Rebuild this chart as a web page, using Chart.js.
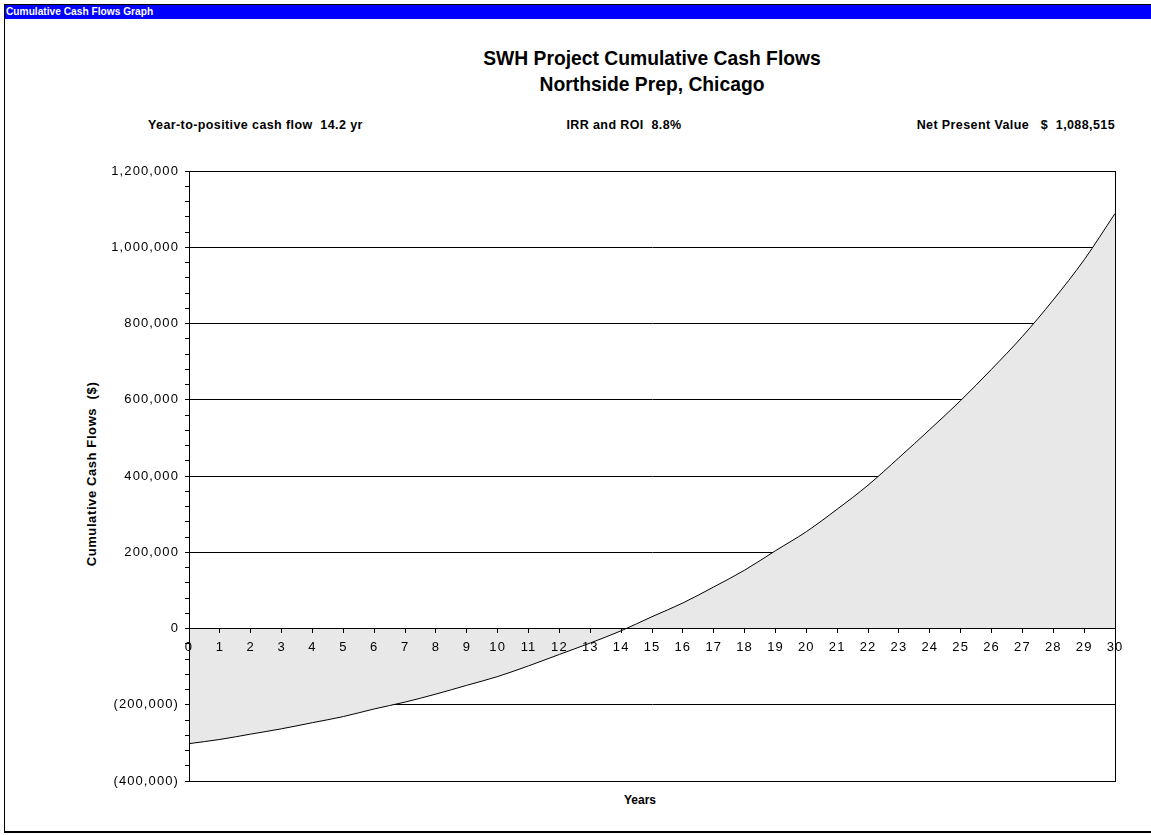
<!DOCTYPE html>
<html>
<head>
<meta charset="utf-8">
<script src="https://cdn.jsdelivr.net/npm/chart.js@4/dist/chart.umd.min.js"></script>
<style>
  html, body { margin: 0; padding: 0; background: #fff; }
  body { width: 1151px; height: 835px; position: relative; overflow: hidden; font-family: "Liberation Sans", Arial, sans-serif; color: #000; }
  #frame { position: absolute; left: 4px; top: 4px; width: 1160px; height: 826px; border-left: 1px solid #000; border-top: 1px solid #000; border-bottom: 2px solid #000; box-sizing: content-box; }
  #bar { position: absolute; left: 5px; top: 5px; width: 1146px; height: 14px; background: #0000FF; color: #fff; font-weight: bold; font-size: 10.2px; line-height: 14px; padding-left: 1px; box-sizing: border-box; }
  .t { position: absolute; white-space: pre; font-weight: bold; }
  #title { left: 189px; width: 926px; top: 46px; text-align: center; font-size: 19.3px; line-height: 26px; }
  .stat { font-size: 12.5px; letter-spacing: 0.4px; top: 117px; line-height: 16px; }
  #ytitle { font-size: 13px; letter-spacing: 0.6px; left: 92px; top: 474px; transform: translate(-50%, -50%) rotate(-90deg); line-height: 16px; }
  #xtitle { font-size: 12px; left: 640px; top: 792px; transform: translateX(-50%); line-height: 16px; }
  canvas { position: absolute; left: 0; top: 0; }
</style>
</head>
<body>
<div id="frame"></div>
<div id="bar">Cumulative Cash Flows Graph</div>
<div class="t" id="title">SWH Project Cumulative Cash Flows
Northside Prep, Chicago</div>
<div class="t stat" style="left:148px;">Year-to-positive cash flow  14.2 yr</div>
<div class="t stat" style="left:624px; transform:translateX(-50%);">IRR and ROI  8.8%</div>
<div class="t stat" style="right:36px;">Net Present Value   $  1,088,515</div>
<div class="t" id="ytitle">Cumulative Cash Flows  ($)</div>
<div class="t" id="xtitle">Years</div>
<canvas id="c" width="1151" height="835"></canvas>
<script>
const years = ['0','1','2','3','4','5','6','7','8','9','10','11','12','13','14','15','16','17','18','19','20','21','22','23','24','25','26','27','28','29','30'];
const cumulativeCashFlow = [-302000, -291000, -277000, -263000, -247000, -231000, -211000, -193000, -172000, -149000, -126000, -98000, -68000, -38000, -6000, 31000, 67000, 109000, 153000, 204000, 254000, 313000, 376000, 448000, 522000, 598000, 680000, 766000, 862000, 967000, 1088515];
const yMin = -400000;
const yMax = 1200000;
const yMajorStep = 200000;
const yMinorStep = 40000;

function fmt(v) {
  const s = Math.abs(v).toLocaleString('en-US');
  return v < 0 ? '(' + s + ')' : s;
}

const frameRect = {
  id: 'frameRect',
  beforeDraw(chart) {
    if ('letterSpacing' in chart.ctx) chart.ctx.letterSpacing = '1.1px';
  },
  afterDatasetsDraw(chart) {
    const a = chart.chartArea, ctx = chart.ctx;
    ctx.save();
    ctx.strokeStyle = '#000';
    ctx.lineWidth = 1;
    ctx.strokeRect(Math.round(a.left) + 0.5, Math.round(a.top) + 0.5, Math.round(a.right - a.left), Math.round(a.bottom - a.top));
    ctx.restore();
  }
};

const tickFont = { family: '"Liberation Sans", Arial, sans-serif', size: 13 };

new Chart(document.getElementById('c'), {
  type: 'line',
  data: {
    labels: years,
    datasets: [{
      data: cumulativeCashFlow,
      borderColor: '#000',
      borderWidth: 1,
      backgroundColor: '#E8E8E8',
      fill: 'origin',
      pointRadius: 0,
      cubicInterpolationMode: 'monotone'
    }]
  },
  options: {
    responsive: false,
    animation: false,
    layout: { padding: { left: 80, top: 171, right: 36, bottom: 54 } },
    plugins: { legend: { display: false }, tooltip: { enabled: false } },
    scales: {
      x: {
        type: 'category',
        position: { y: 0 },
        offset: false,
        afterFit(s) { s.height = 0; },
        grid: { drawOnChartArea: false, drawTicks: true, tickLength: 4, color: '#000', tickColor: '#000', z: 1 },
        border: { display: true, color: '#000', width: 1, z: 1 },
        ticks: { color: '#000', font: tickFont, padding: 7, autoSkip: false, maxRotation: 0, z: 1 }
      },
      y: {
        min: yMin,
        max: yMax,
        afterFit(s) { s.width = 109; },
        grid: {
          color: (c) => (c.tick && Math.round(c.tick.value) % yMajorStep === 0) ? '#000' : 'rgba(0,0,0,0)',
          tickColor: '#000',
          tickLength: 4,
          lineWidth: 1
        },
        border: { display: true, color: '#000', width: 1, z: 1 },
        ticks: {
          stepSize: yMinorStep,
          autoSkip: false,
          color: '#000',
          padding: 6,
          font: tickFont,
          callback: (v) => (Math.round(v) % yMajorStep === 0) ? fmt(Math.round(v)) : ''
        }
      }
    }
  },
  plugins: [frameRect]
});
</script>
</body>
</html>
